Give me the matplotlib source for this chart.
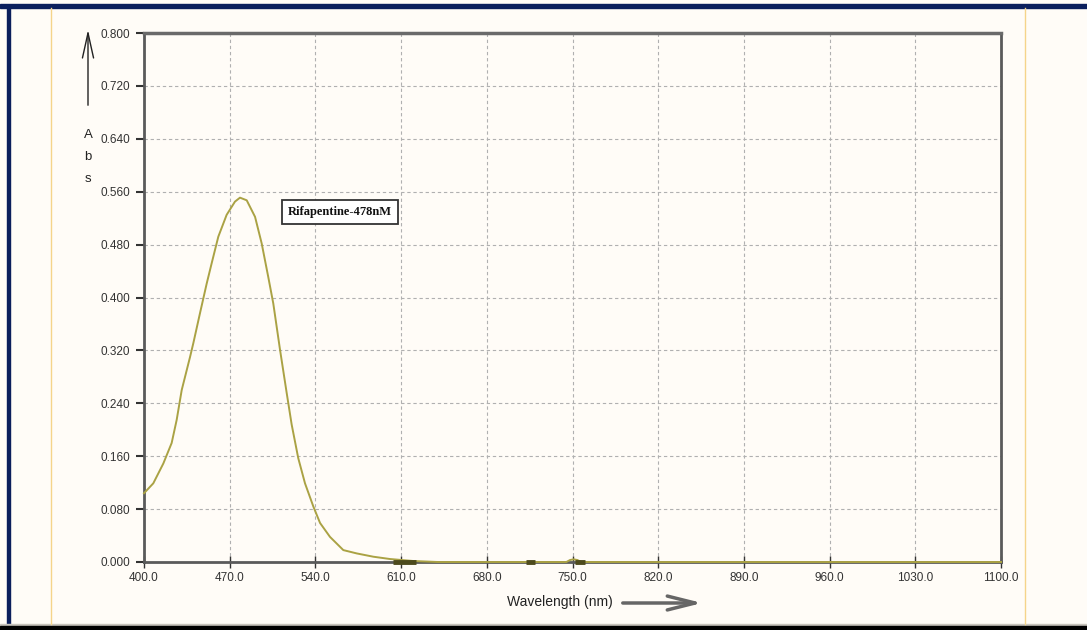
import matplotlib.pyplot as plt
from matplotlib.patches import Rectangle, FancyArrowPatch
from matplotlib.lines import Line2D

# absorbance spectrum
wavelength = [400, 407.6, 415.8, 422.6, 426.7, 430.8, 437.6, 440.3, 445.7,
              451.2, 455.3, 460.7, 467.5, 474.3, 478.4, 483.9, 490.7, 496.1,
              501.5, 505.6, 511.1, 516.6, 520.6, 526.0, 531.5, 538.3, 543.8,
              551.9, 562.8, 573.7, 587.3, 601, 620, 640, 745, 748, 751, 754,
              757, 770, 1100]
absorbance = [0.104, 0.119, 0.149, 0.180, 0.215, 0.260, 0.310, 0.331, 0.376,
              0.421, 0.452, 0.492, 0.525, 0.545, 0.551, 0.547, 0.522, 0.482,
              0.431, 0.391, 0.321, 0.255, 0.208, 0.157, 0.119, 0.084, 0.059,
              0.038, 0.018, 0.013, 0.008, 0.0045, 0.0015, 0.0, 0.0, 0.003,
              0.004, 0.003, 0.0, 0.0, 0.0]

# short dark marks sitting on the baseline
dark_marks = [(603, 622), (712, 719), (752, 760)]

x_ticks = [400 + 70 * i for i in range(11)]
y_ticks = [0.08 * i for i in range(11)]
label_text = "Rifapentine-478nM"

bg = "#fffcf7"
line_col = "#aaa244"
axis_col = "#5a5a5a"
tick_font = "Liberation Sans"

fig = plt.figure(figsize=(10.87, 6.30), dpi=100, facecolor=bg)

# frame decorations
fig.patches.append(Rectangle((0, 1 - 8 / 630), 1, 4 / 630, transform=fig.transFigure,
                             color="#0b1f5c", zorder=0))
fig.patches.append(Rectangle((7 / 1087, 0), 3 / 1087, 1 - 8 / 630, transform=fig.transFigure,
                             color="#0b1f5c", zorder=0))
fig.patches.append(Rectangle((0, 4 / 630), 1, 2 / 630, transform=fig.transFigure,
                             color="#c8c4bc", zorder=0))
fig.patches.append(Rectangle((0, 0), 1, 4 / 630, transform=fig.transFigure,
                             color="#000000", zorder=0))
for xp in (51, 1025):
    fig.lines.append(Line2D([xp / 1087, xp / 1087], [6 / 630, 1 - 8 / 630],
                            transform=fig.transFigure, color="#f5d48a", lw=1))

ax = fig.add_axes([144 / 1087, 68 / 630, 857 / 1087, 529 / 630])
ax.set_facecolor(bg)
ax.set_xlim(400, 1100)
ax.set_ylim(0, 0.8)

ax.plot(wavelength, absorbance, color=line_col, lw=1.4, zorder=4, clip_on=False)
for a, b in dark_marks:
    ax.plot([a, b], [0.0, 0.0], color="#4d4a1c", lw=3.5, solid_capstyle="butt",
            zorder=5, clip_on=False)

ax.set_xticks(x_ticks)
ax.set_xticklabels([f"{v:.1f}" for v in x_ticks], family=tick_font)
ax.set_yticks(y_ticks)
ax.set_yticklabels([f"{v:.3f}" for v in y_ticks], family=tick_font)
ax.grid(True, color="#b0b0b0", linestyle=(0, (3, 2.5)), lw=0.8)
ax.tick_params(axis="x", direction="inout", length=8, width=1, colors="#333333",
               labelcolor="#333333", labelsize=8.5, pad=3)
ax.tick_params(axis="y", direction="out", length=6, width=1.5, colors="#333333",
               labelcolor="#333333", labelsize=8.5, pad=4)
for side in ["left", "bottom", "right"]:
    ax.spines[side].set_color(axis_col)
    ax.spines[side].set_linewidth(2)
ax.spines["top"].set_color("#6a6a6a")
ax.spines["top"].set_linewidth(2.5)

ax.text(560, 0.529, label_text, ha="center", va="center", fontsize=9,
        fontweight="bold", family="Liberation Serif", color="#111111",
        bbox=dict(boxstyle="square,pad=0.5", fc="white", ec="#333333", lw=1.3), zorder=6)

# y label with arrow
for i, ch in enumerate("Abs"):
    fig.text(88 / 1087, 1 - (135 + 22 * i) / 630, ch, ha="center", va="center",
             fontsize=9.5, family=tick_font, color="#222222")
fig.patches.append(FancyArrowPatch(
    (88 / 1087, 1 - 108 / 630), (88 / 1087, 1 - 27 / 630), transform=fig.transFigure,
    arrowstyle="->,head_length=18,head_width=4", color="#222222", lw=1))

# x label with arrow
fig.text(560 / 1087, 1 - 602 / 630, "Wavelength (nm)", ha="center", va="center",
         fontsize=10, family=tick_font, color="#222222")
fig.patches.append(FancyArrowPatch(
    (620 / 1087, 1 - 603 / 630), (705 / 1087, 1 - 603 / 630), transform=fig.transFigure,
    arrowstyle="->,head_length=20,head_width=5", color="#666666", lw=2.5))

fig.savefig("out.png", dpi=100, facecolor=bg)
